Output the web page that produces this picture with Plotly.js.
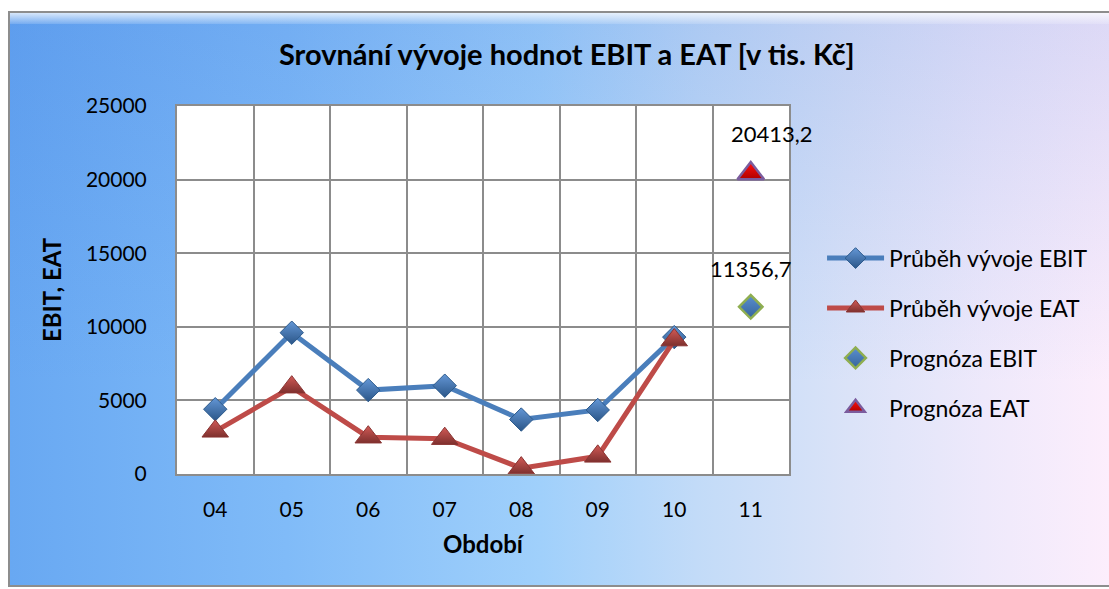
<!DOCTYPE html>
<html><head><meta charset="utf-8">
<script src="https://cdn.plot.ly/plotly-3.0.1.min.js"></script>
<style>
html,body{margin:0;padding:0;background:#fff;}
#wrap{position:relative;width:1109px;height:589px;overflow:hidden;}
#frame{position:absolute;left:8px;top:11px;width:1110px;height:576px;box-sizing:border-box;border:2px solid #8d8d8d;
 background:
  linear-gradient(to bottom, rgba(30,90,210,0.14) 0%, rgba(255,255,255,0) 65%),
  linear-gradient(to right, #68a8f2 0%, #80bbf8 25%, #a0d0fb 48%, #c2dbf8 62%, #dbe3f8 76%, #eee9fb 88%, #fdeefc 100%);}
#band{position:absolute;left:10px;top:13px;width:1100px;height:11px;
 background:linear-gradient(to bottom, rgba(255,255,255,0.75), rgba(255,255,255,0.15));}
#chart{position:absolute;left:0;top:0;width:1109px;height:589px;}
</style></head>
<body>
<div id="wrap"><div id="frame"></div><div id="band"></div><div id="chart"></div></div>
<script>
const periods = ['04','05','06','07','08','09','10','11'];
const ebitPeriods = ['04','05','06','07','08','09','10'];
const ebit = [4400, 9600, 5700, 6000, 3700, 4350, 9300];
const eat  = [2900, 5900, 2500, 2400, 400, 1200, 9100];
const forecastPeriod = ['11'];
const forecastEbit = [11356.7];
const forecastEat = [20413.2];
const names = ['Průběh vývoje EBIT','Průběh vývoje EAT','Prognóza EBIT','Prognóza EAT'];

const FONT = 'Lato, "Open Sans", sans-serif';
const fmt = v => v.toFixed(1).replace('.', ',');
const fIdx = periods.indexOf(forecastPeriod[0]);

const traces = [
 {x: ebitPeriods, y: ebit, name: names[0], type:'scatter', mode:'lines+markers', legendgroup:'a',
  line:{color:'#4a7ebb', width:5},
  marker:{symbol:'diamond', size:18, color:'#6497d6', gradient:{type:'vertical', color:'#2b5688'}, line:{color:'#2c5a8c', width:1}}},
 {x: ebitPeriods, y: eat, name: names[1], type:'scatter', mode:'lines+markers', legendgroup:'b',
  line:{color:'#be4b48', width:5},
  marker:{symbol:'triangle-up', size:23, color:'#d25a56', gradient:{type:'vertical', color:'#7e302e'}, line:{color:'#8a3432', width:1}}},
 {x: forecastPeriod, y: forecastEbit, name: names[2], type:'scatter', mode:'markers', legendgroup:'c',
  marker:{symbol:'diamond', size:18, color:'#5b8fd0', gradient:{type:'vertical', color:'#35649a'}, line:{color:'#8fae50', width:2.5}}},
 {x: forecastPeriod, y: forecastEat, name: names[3], type:'scatter', mode:'markers', legendgroup:'d',
  marker:{symbol:'triangle-up', size:23, color:'#ff1010', gradient:{type:'vertical', color:'#b00000'}, line:{color:'#7b5c9e', width:2.5}}}
];

const layout = {
 width:1109, height:589,
 paper_bgcolor:'rgba(0,0,0,0)', plot_bgcolor:'#ffffff',
 margin:{l:177, r:320, t:106, b:115},
 font:{family:FONT, size:21, color:'#000'},
 title:{text:'Srovnání vývoje hodnot EBIT a EAT [v tis. Kč]', xref:'container', x:0.511, xanchor:'center',
   yref:'container', y:0.907, yanchor:'middle', font:{family:FONT, size:29, weight:'bold', color:'#000'}},
 xaxis:{type:'category', categoryorder:'array', categoryarray:periods, range:[-0.5,7.5], tickson:'boundaries',
   showgrid:true, gridcolor:'#8c8c8c', gridwidth:2, showline:true, linecolor:'#8c8c8c', linewidth:2, mirror:true,
   ticks:'', ticklabelstandoff:16, tickfont:{size:21},
   title:{text:'Období', standoff:16, font:{size:24, weight:'bold'}}, automargin:false},
 yaxis:{range:[0,25000], dtick:5000, tickformat:'d', showgrid:true, gridcolor:'#8c8c8c', gridwidth:2,
   showline:true, linecolor:'#8c8c8c', linewidth:2, mirror:true, zeroline:false, ticks:'',
   ticklabelstandoff:24, tickfont:{size:21},
   title:{text:'EBIT, EAT', standoff:17, font:{size:24, weight:'bold'}}, automargin:false},
 legend:{x:1.054, xanchor:'left', y:0.645, yanchor:'top', bgcolor:'rgba(0,0,0,0)', font:{size:23},
   itemwidth:57, tracegroupgap:17, traceorder:'grouped'},
 annotations:[
  {xref:'x', yref:'y', x: fIdx, y: forecastEat[0], text: fmt(forecastEat[0]), showarrow:false, yshift:40, xshift:21, font:{size:22}},
  {xref:'x', yref:'y', x: fIdx, y: forecastEbit[0], text: fmt(forecastEbit[0]), showarrow:false, yshift:38, xshift:0, font:{size:22}}
 ],
 showlegend:true
};
Plotly.newPlot('chart', traces, layout, {displayModeBar:false, staticPlot:true});
</script>
</body></html>
